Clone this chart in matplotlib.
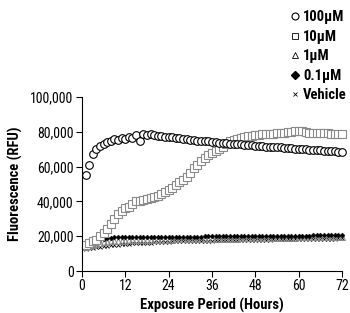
import numpy as np
import matplotlib
matplotlib.use('Agg')
import matplotlib.pyplot as plt
from matplotlib.lines import Line2D

plt.rcParams['font.family'] = ['Roboto Condensed', 'DejaVu Sans']

hours = list(range(1, 73))

uM100 = [55000, 61000, 67000, 70000, 72000, 73000, 74000, 75000, 76000, 75500,
         76500, 76000, 77000, 76500, 78000, 75000, 78500, 78000, 78500, 78000,
         77500, 77500, 77000, 77000, 76800, 76500, 76500, 76000, 76000, 75500,
         75500, 75000, 75000, 74500, 74500, 74000, 74000, 73800, 73500, 73500,
         73200, 73000, 73000, 72800, 72500, 72500, 72300, 72000, 72000, 71800,
         71500, 71500, 71300, 71000, 71000, 70800, 70500, 70500, 70300, 70000,
         70000, 70000, 69800, 69500, 69500, 69300, 69000, 69000, 69000, 68800,
         68500, 68500]

uM10 = [15000, 16000, 17000, 18000, 20000, 22000, 24000, 27000, 30000, 33000,
        34500, 36000, 37000, 38500, 40000, 40500, 41000, 41500, 42000, 42500,
        43000, 44000, 45500, 46500, 48000, 49500, 51000, 52500, 54000, 56500,
        59000, 61000, 63000, 65000, 66500, 68000, 69000, 70000, 71500, 73000,
        74500, 75500, 76000, 76500, 77000, 77500, 77800, 78000, 78200, 78500,
        78700, 79000, 79000, 79200, 79500, 79500, 79800, 80000, 80500, 80500,
        80500, 80000, 79500, 79500, 79300, 79300, 79200, 79200, 79000, 79000,
        79000, 79000]

uM1 = [14000, 14500, 15000, 15500, 16000, 16500, 16800, 17000, 17200, 17300,
       17400, 17500, 17600, 17600, 17700, 17700, 17800, 17800, 17900, 17900,
       18000, 18000, 18000, 18100, 18100, 18200, 18200, 18200, 18300, 18300,
       18300, 18400, 18400, 18400, 18500, 18500, 18500, 18600, 18600, 18600,
       18700, 18700, 18700, 18800, 18800, 18800, 18900, 18900, 18900, 19000,
       19000, 19000, 19000, 19100, 19100, 19100, 19200, 19200, 19200, 19300,
       19300, 19300, 19300, 19400, 19400, 19400, 19500, 19500, 19500, 19500,
       19600, 19600]

uM01 = [15500, 16500, 17200, 17800, 18300, 18700, 19000, 19200, 19300, 19400,
        19400, 19400, 19400, 19500, 19500, 19500, 19500, 19500, 19600, 19600,
        19600, 19600, 19600, 19700, 19700, 19700, 19700, 19700, 19800, 19800,
        19800, 19800, 19800, 19900, 19900, 19900, 19900, 19900, 20000, 20000,
        20000, 20000, 20000, 20100, 20100, 20100, 20100, 20100, 20200, 20200,
        20200, 20200, 20200, 20300, 20300, 20300, 20300, 20300, 20400, 20400,
        20400, 20400, 20400, 20500, 20500, 20500, 20500, 20500, 20600, 20600,
        20600, 20700]

vehicle = [12500, 13000, 13300, 13600, 13900, 14200, 14500, 14800, 15000, 15200,
           15400, 15600, 15800, 15900, 16000, 16100, 16200, 16300, 16400, 16500,
           16600, 16700, 16800, 16900, 17000, 17000, 17100, 17100, 17200, 17200,
           17300, 17300, 17400, 17400, 17500, 17500, 17600, 17600, 17700, 17700,
           17800, 17800, 17800, 17900, 17900, 17900, 18000, 18000, 18000, 18100,
           18100, 18100, 18200, 18200, 18200, 18300, 18300, 18300, 18400, 18400,
           18400, 18500, 18500, 18500, 18600, 18600, 18600, 18700, 18700, 18700,
           18800, 18800]

labels = ['100\u00b5M', '10\u00b5M', '1\u00b5M', '0.1\u00b5M', 'Vehicle']

fig = plt.figure(figsize=(3.5, 3.13), dpi=100)
ax = fig.add_axes([0.234, 0.134, 0.743, 0.556])

ms = 5.5
ax.plot(hours, vehicle, 'x', color='black', ms=3, mew=0.6, clip_on=False)
ax.plot(hours, uM1, '^', mfc='none', mec='#888888', ms=4.5, mew=0.7, clip_on=False)
ax.plot(hours, uM01, 'D', color='black', ms=2.5, mew=0.3, clip_on=False)
ax.plot(hours, uM10, 's', mfc='white', mec='#8a8a8a', ms=ms, mew=0.8, clip_on=False)
ax.plot(hours, uM100, 'o', mfc='white', mec='black', ms=ms, mew=0.8, clip_on=False)

ax.set_xlim(0, 72)
ax.set_ylim(0, 100000)
ax.set_xticks([0, 12, 24, 36, 48, 60, 72])
ax.set_yticks(range(0, 100001, 20000))
ax.set_yticklabels(['{:,}'.format(v) for v in range(0, 100001, 20000)])
ax.spines['top'].set_visible(False)
ax.spines['right'].set_visible(False)
ax.tick_params(direction='out', length=4, width=0.8, labelsize=10, pad=2)
ax.set_xlabel('Exposure Period (Hours)', fontsize=10.5, fontweight='bold', labelpad=3)
ax.set_ylabel('Fluorescence (RFU)', fontsize=10.5, fontweight='bold', labelpad=5)

handles = [
    Line2D([], [], ls='none', marker='o', mfc='white', mec='black', ms=5, mew=0.8),
    Line2D([], [], ls='none', marker='s', mfc='white', mec='black', ms=5, mew=0.6),
    Line2D([], [], ls='none', marker='^', mfc='white', mec='black', ms=5, mew=0.6),
    Line2D([], [], ls='none', marker='D', color='black', ms=4.5),
    Line2D([], [], ls='none', marker='x', color='black', ms=3.5, mew=0.6),
]
leg = fig.legend(handles, labels, loc='upper left', bbox_to_anchor=(0.80, 1.0),
                 frameon=False, handlelength=0.6, handletextpad=0.3,
                 labelspacing=0.38, borderaxespad=0.3,
                 prop={'weight': 'bold', 'size': 10.5})

fig.savefig('out.png', dpi=100)
